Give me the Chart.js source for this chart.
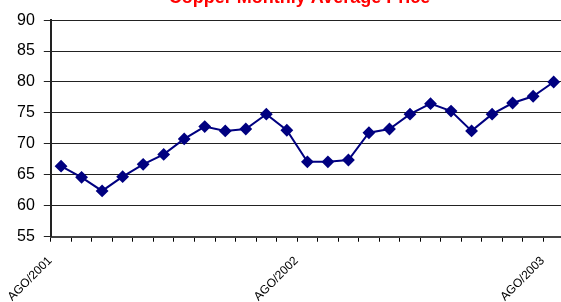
<!DOCTYPE html>
<html>
<head>
<meta charset="utf-8">
<script src="https://cdn.jsdelivr.net/npm/chart.js@4/dist/chart.umd.min.js"></script>
<style>
  html, body { margin: 0; padding: 0; background: #fff; overflow: hidden; }
  #wrap { position: absolute; left: 0; top: -14px; width: 576px; height: 330px; }
</style>
</head>
<body>
<div id="wrap"><canvas id="chart"></canvas></div>
<script>
// monthly categories, AGO/2001 .. AGO/2003
var months = ['AGO/2001', 'SET/2001', 'OUT/2001', 'NOV/2001', 'DEZ/2001',
    'JAN/2002', 'FEV/2002', 'MAR/2002', 'ABR/2002', 'MAI/2002', 'JUN/2002', 'JUL/2002',
    'AGO/2002', 'SET/2002', 'OUT/2002', 'NOV/2002', 'DEZ/2002',
    'JAN/2003', 'FEV/2003', 'MAR/2003', 'ABR/2003', 'MAI/2003', 'JUN/2003', 'JUL/2003',
    'AGO/2003'];
var shownLabels = ['AGO/2001', 'AGO/2002', 'AGO/2003'];
var prices = [66.4, 64.6, 62.4, 64.7, 66.7, 68.3, 70.8, 72.8, 72.1, 72.4, 74.8, 72.2,
    67.1, 67.1, 67.4, 71.8, 72.4, 74.8, 76.5, 75.3, 72.1, 74.8, 76.6, 77.7, 80.0];
var yTicks = [55, 60, 65, 70, 75, 80, 85, 90];

var ctx = document.getElementById('chart').getContext('2d');
var copperChart = new Chart(ctx, {
    type: 'line',
    data: {
        labels: months,
        datasets: [{
            label: 'Copper',
            data: prices,
            borderColor: '#000080',
            backgroundColor: '#000080',
            borderWidth: 2,
            pointStyle: 'rectRot',
            pointRadius: 5,
            pointHoverRadius: 5,
            tension: 0
        }]
    },
    options: {
        responsive: true,
        maintainAspectRatio: false,
        animation: false,
        layout: { padding: { left: 8, right: 0, top: 0, bottom: 0 } },
        plugins: {
            legend: { display: false },
            tooltip: { enabled: false },
            title: {
                display: true,
                // leading spaces nudge the centred title a little to the right
                text: '\u00a0\u00a0\u00a0Copper Monthly Average Price',
                color: '#ff0000',
                font: { family: 'Liberation Sans', size: 18, weight: 'bold' },
                padding: { top: 1.5, bottom: 11 }
            }
        },
        scales: {
            x: {
                offset: true,
                grid: {
                    offset: true,
                    drawOnChartArea: false,
                    drawTicks: true,
                    tickLength: 5,
                    color: '#000'
                },
                border: { color: '#444', width: 2 },
                ticks: {
                    autoSkip: false,
                    minRotation: 45,
                    maxRotation: 45,
                    padding: 12,
                    labelOffset: -11,
                    color: '#000',
                    font: { family: 'Liberation Sans', size: 12 },
                    callback: function (value, index) {
                        var lbl = months[index];
                        return shownLabels.indexOf(lbl) >= 0 ? lbl : '';
                    }
                }
            },
            y: {
                min: 55,
                max: 90,
                afterBuildTicks: function (axis) {
                    axis.ticks = yTicks.map(function (v) { return { value: v }; });
                },
                grid: {
                    color: '#222',
                    tickLength: 7,
                    drawTicks: true
                },
                border: { color: '#222', width: 2 },
                ticks: {
                    padding: 9,
                    color: '#000',
                    font: { family: 'Liberation Sans', size: 16 }
                }
            }
        }
    }
});
</script>
</body>
</html>
